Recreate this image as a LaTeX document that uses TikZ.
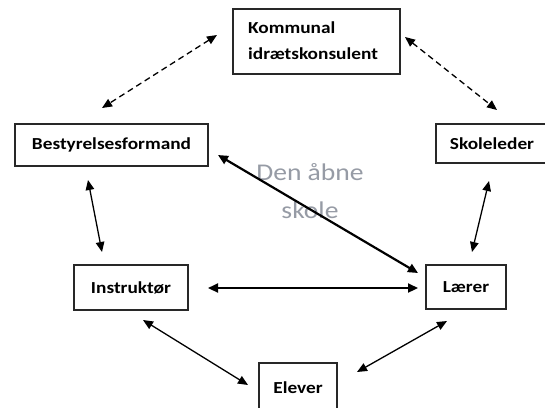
\documentclass[tikz,border=0pt]{standalone}
\usepackage{fontspec}
\setmainfont{Carlito}[FakeStretch=1.15]
\usetikzlibrary{arrows.meta}
\definecolor{boxline}{RGB}{40,40,40}
\definecolor{ghost}{RGB}{150,155,165}
\tikzset{
  box/.style={draw=boxline, line width=1.3pt, inner sep=0pt, font=\fontsize{16.8}{20}\selectfont\bfseries, text=black},
  thin/.style={line width=1.3pt, {Triangle[length=10pt,width=8.5pt]}-{Triangle[length=10pt,width=8.5pt]}},
  thick/.style={line width=2.2pt, {Triangle[length=10pt,width=9pt]}-{Triangle[length=10pt,width=9pt]}},
  dashline/.style={thin, dash pattern=on 6pt off 4pt},
}
\begin{document}
\begin{tikzpicture}[x=1pt,y=-1pt]
\useasboundingbox (0,0) rectangle (545,407);
\fill[white] (0,0) rectangle (545,407);
\clip (0,0) rectangle (545,407);

\node[box, minimum width=167pt, minimum height=65pt] (kom) at (316.5,41.5) {};
\node[font=\fontsize{16.8}{26}\selectfont\bfseries, align=left, anchor=north west, inner sep=0pt] (komtxt) at (248,22) {Kommunal\\idrætskonsulent};
\node[box, minimum width=193pt, minimum height=42pt] (best) at (111.5,145) {Bestyrelsesformand};
\node[box, minimum width=112pt, minimum height=39pt] (skole) at (492,143.5) {Skoleleder};
\node[box, minimum width=114pt, minimum height=45pt] (instr) at (131,287.5) {Instruktør};
\node[box, minimum width=80pt, minimum height=44pt] (laerer) at (466,287) {Lærer};
\node[box, minimum width=78pt, minimum height=50pt] (elev) at (298,388) {Elever};

\node[text=ghost, font=\fontsize{24}{38}\selectfont, align=center] (den) at (310,191) {Den åbne\\skole};

\coordinate (k1) at (217,35);
\coordinate (b1) at (102,108);
\coordinate (k2) at (405,37);
\coordinate (s1) at (497,110);
\coordinate (b2) at (88,180);
\coordinate (i1) at (102,252);
\coordinate (s2) at (489,181);
\coordinate (l1) at (472,252);
\coordinate (b3) at (218,155);
\coordinate (l2) at (418,273);
\coordinate (i2) at (208,288);
\coordinate (l3) at (418,288);
\coordinate (i3) at (143,320);
\coordinate (e1) at (248,385);
\coordinate (l4) at (447,321);
\coordinate (e2) at (357,372);

\draw[dashline] (k1) -- (b1);
\draw[dashline] (k2) -- (s1);
\draw[thin] (b2) -- (i1);
\draw[thin] (s2) -- (l1);
\draw[thick] (b3) -- (l2);
\draw[thick] (i2) -- (l3);
\draw[thin] (i3) -- (e1);
\draw[thin] (l4) -- (e2);
\end{tikzpicture}
\end{document}
